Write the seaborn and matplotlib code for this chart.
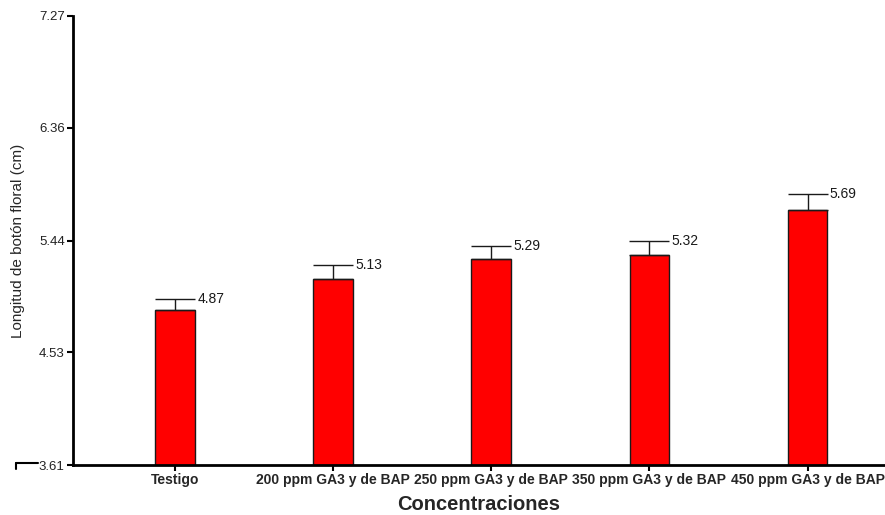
import matplotlib
matplotlib.use("Agg")
import matplotlib.pyplot as plt
from matplotlib import font_manager
import seaborn as sns
import pandas as pd
import numpy as np

categories = ["Testigo", "200 ppm GA3 y de BAP", "250 ppm GA3 y de BAP",
              "350 ppm GA3 y de BAP", "450 ppm GA3 y de BAP"]
means = [4.87, 5.13, 5.29, 5.32, 5.69]
errors = [0.09, 0.11, 0.105, 0.12, 0.13]
y_ticks = [3.61, 4.53, 5.44, 6.36, 7.27]

sns.set_theme(style="white")
names = {f.name for f in font_manager.fontManager.ttflist}
narrow = "Liberation Sans Narrow" if "Liberation Sans Narrow" in names else "Liberation Sans"
plt.rcParams["font.family"] = ["Liberation Sans", "DejaVu Sans"]

df = pd.DataFrame({"Concentraciones": categories, "Longitud": means})

fig = plt.figure(figsize=(8.85, 5.15), dpi=100)
ax = fig.add_axes([0.0825, 0.097, 0.9175, 0.872])

sns.barplot(data=df, x="Concentraciones", y="Longitud", ax=ax,
            color="#ff0000", saturation=1, width=0.25,
            edgecolor="#1a1a1a", linewidth=1.0, errorbar=None)

x = np.arange(len(categories))
ax.errorbar(x, means, yerr=[np.zeros(len(means)), errors], fmt="none",
            ecolor="#1a1a1a", elinewidth=1.0, capsize=14.4, capthick=1.0)

for xi, m, e in zip(x, means, errors):
    ax.text(xi + 0.14, m + e, f"{m:.2f}", ha="left", va="center",
            fontsize=10, color="#1a1a1a")

ax.set_ylim(3.61, 7.27)
ax.set_xlim(-0.645, 4.49)
ax.set_yticks(y_ticks)
ax.set_yticklabels([f"{t:.2f}" for t in y_ticks], fontsize=9.5, color="#222222")
ax.set_xticks(x)
ax.set_xticklabels(categories, fontsize=10, fontweight="bold", family=narrow)

for s in ["top", "right"]:
    ax.spines[s].set_visible(False)
for s in ["left", "bottom"]:
    ax.spines[s].set_color("black")
    ax.spines[s].set_linewidth(2.0)

ax.tick_params(axis="both", which="major", direction="out", length=4,
               width=1.5, color="black", left=True, bottom=True, pad=2)

ax.set_ylabel("Longitud de botón floral (cm)", fontsize=11, labelpad=10)
ax.set_xlabel("Concentraciones", fontsize=14.5, fontweight="bold", labelpad=5.5,
              family=narrow)

# small bracket at lower left
fig.add_artist(plt.Line2D([16 / 885, 38 / 885], [1 - 463 / 515, 1 - 463 / 515],
                          color="black", lw=1.5))
fig.add_artist(plt.Line2D([16 / 885, 16 / 885], [1 - 463 / 515, 1 - 469 / 515],
                          color="black", lw=1.5))

fig.savefig("out.png", dpi=100)
